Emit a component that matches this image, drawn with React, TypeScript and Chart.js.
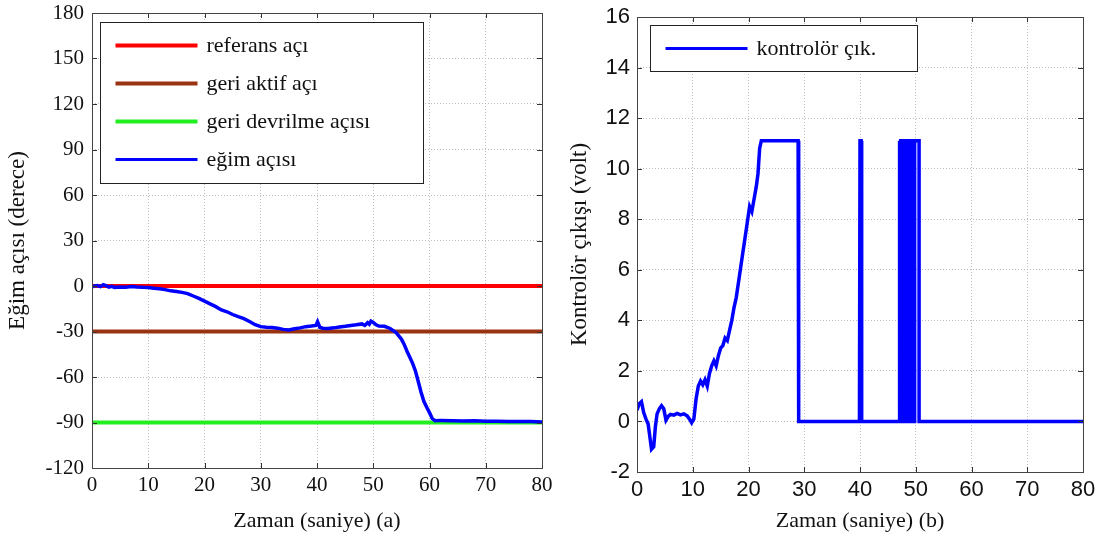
import React, { useEffect, useRef } from "react";
import { Chart, registerables } from "chart.js";
Chart.register(...registerables);

// ---------- data ----------
const xTickValues = [0, 10, 20, 30, 40, 50, 60, 70, 80];
const leftYTicks = [-120, -90, -60, -30, 0, 30, 60, 90, 120, 150, 180];
const rightYTicks = [-2, 0, 2, 4, 6, 8, 10, 12, 14, 16];

const refTime = [0, 80];
const referansAci = [0, 0];
const geriAktifAci = [-30, -30];
const geriDevrilmeAcisi = [-90, -90];

const egimTime = [
  0, 0.5, 1, 1.5, 2, 2.5, 3, 3.5, 4, 5, 6, 7, 8, 9, 10, 11, 12, 13, 14, 15, 16,
  17, 18, 19, 20, 21, 22, 23, 24, 25, 26, 27, 28, 29, 30, 31, 32, 33, 34, 35,
  36, 37, 38, 39, 39.8, 40.1, 40.5, 41, 42, 43, 44, 45, 46, 47, 48, 48.5, 49,
  49.3, 49.6, 50, 50.5, 51, 52, 53, 54, 55, 55.5, 56, 56.5, 57, 57.5, 58, 58.5,
  59, 59.5, 60, 60.5, 61, 62, 64, 66, 68, 70, 72, 74, 76, 78, 80,
];
const egimAcisi = [
  -0.5, 0.1, 0.3, -0.4, 0.8, 0.2, -0.8, -0.2, -0.9, -0.6, -0.8, -0.3, -0.7,
  -0.9, -1.0, -1.5, -1.8, -2.4, -3.2, -3.6, -4.2, -5.0, -6.6, -8.2, -10, -11.8,
  -13.6, -15.8, -17, -18.8, -20.2, -21.5, -23.4, -25.5, -26.8, -27.2, -27.4,
  -27.8, -28.6, -29.0, -28.2, -27.6, -26.8, -26.4, -26, -23.5, -27.2, -27.8,
  -28, -27.6, -27, -26.6, -26, -25.6, -25, -26, -24.2, -25.2, -23.2, -24,
  -25.6, -26.4, -26.6, -28, -30.5, -35, -38.5, -43, -47, -51, -56, -63, -70,
  -76, -80, -83.5, -87.5, -88.8, -88.6, -88.8, -89.0, -88.9, -89.2, -89.1,
  -89.3, -89.4, -89.4, -89.6,
];

const kontrolTime = [
  0, 0.4, 0.8, 1.2, 1.6, 2.0, 2.3, 2.6, 3.0, 3.3, 3.6, 4.0, 4.4, 4.8, 5.2, 5.6,
  6.0, 6.6, 7.2, 7.8, 8.4, 9.0, 9.4, 9.8, 10.2, 10.6, 11.0, 11.4, 11.8, 12.2,
  12.6, 13.0, 13.4, 13.8, 14.2, 14.6, 15.0, 15.4, 15.8, 16.2, 16.6, 17.0, 17.4,
  17.8, 18.2, 18.6, 19.0, 19.4, 19.8, 20.2, 20.6, 21.0, 21.4, 21.7, 22.0, 22.3,
  28.9, 29.0, 39.9, 40.0, 40.2, 40.3, 46.9, 47.0, 47.0, 47.15, 47.15, 47.3,
  47.3, 47.45, 47.45, 47.6, 47.6, 47.75, 47.75, 47.9, 47.9, 48.05, 48.05, 48.2,
  48.2, 48.35, 48.35, 48.5, 48.5, 48.65, 48.65, 48.8, 48.8, 48.95, 48.95, 49.1,
  49.1, 49.3, 49.3, 49.8, 49.8, 50.6, 50.6, 80,
];
const kontrolorCikis = [
  0.45, 0.7, 0.78, 0.35, 0.1, -0.1, -0.6, -1.1, -1.0, -0.2, 0.3, 0.5, 0.62, 0.5,
  0.05, 0.2, 0.28, 0.25, 0.32, 0.26, 0.3, 0.22, 0.1, -0.05, 0.1, 0.9, 1.4, 1.6,
  1.45, 1.65, 1.4, 1.9, 2.2, 2.4, 2.2, 2.6, 2.9, 3.0, 3.3, 3.2, 3.6, 4.0, 4.5,
  4.9, 5.5, 6.1, 6.7, 7.3, 7.9, 8.5, 8.3, 8.8, 9.3, 9.8, 10.8, 11.1, 11.1, 0, 0,
  11.1, 11.1, 0, 0, 0, 11.1, 11.1, 0, 0, 11.1, 11.1, 0, 0, 11.1, 11.1, 0, 0,
  11.1, 11.1, 0, 0, 11.1, 11.1, 0, 0, 11.1, 11.1, 0, 0, 11.1, 11.1, 0, 0, 11.1,
  11.1, 0, 0, 11.1, 11.1, 0, 0,
];

const toPoints = (xs: number[], ys: number[]) => xs.map((x, i) => ({ x, y: ys[i] }));

// ---------- plugins ----------
function framePlugin(legend: { items: { label: string; color: string; width: number }[]; dx: number; dy: number; w: number; h: number; row: number; first: number }) {
  return {
    id: "frame",
    afterDraw(chart: any) {
      const ctx = chart.ctx;
      const a = chart.chartArea;
      ctx.save();
      ctx.strokeStyle = "#333";
      ctx.lineWidth = 1;
      const xs = chart.scales.x;
      const ys = chart.scales.y;
      ctx.beginPath();
      xs.ticks.forEach((t: any) => {
        const p = Math.round(xs.getPixelForValue(t.value)) + 0.5;
        ctx.moveTo(p, a.bottom);
        ctx.lineTo(p, a.bottom - 5);
        ctx.moveTo(p, a.top);
        ctx.lineTo(p, a.top + 5);
      });
      ys.ticks.forEach((t: any) => {
        const p = Math.round(ys.getPixelForValue(t.value)) + 0.5;
        ctx.moveTo(a.left, p);
        ctx.lineTo(a.left + 5, p);
        ctx.moveTo(a.right, p);
        ctx.lineTo(a.right - 5, p);
      });
      ctx.stroke();
      ctx.strokeStyle = "#444";
      ctx.strokeRect(Math.round(a.left) + 0.5, Math.round(a.top) + 0.5, Math.round(a.right - a.left), Math.round(a.bottom - a.top));
      const lx = Math.round(a.left + legend.dx) + 0.5;
      const ly = Math.round(a.top + legend.dy) + 0.5;
      ctx.fillStyle = "#fff";
      ctx.fillRect(lx, ly, legend.w, legend.h);
      ctx.strokeStyle = "#222";
      ctx.lineWidth = 1;
      ctx.strokeRect(lx, ly, legend.w, legend.h);
      ctx.font = '22px "Liberation Serif"';
      ctx.textBaseline = "middle";
      ctx.textAlign = "left";
      legend.items.forEach((it, i) => {
        const y = ly + legend.first + i * legend.row;
        ctx.strokeStyle = it.color;
        ctx.lineWidth = it.width;
        ctx.beginPath();
        ctx.moveTo(lx + 15, y);
        ctx.lineTo(lx + 97, y);
        ctx.stroke();
        ctx.fillStyle = "#111";
        ctx.fillText(it.label, lx + 106, y + 1);
      });
      ctx.restore();
    },
  };
}

const gridOpts = {
  color: "#bcbcbc",
  lineWidth: 1,
  drawTicks: false,
};

const fitX = (h: number) => (s: any) => {
  s.height = h;
  s.paddingLeft = 0;
  s.paddingRight = 0;
  s.paddingTop = 0;
  s.paddingBottom = 0;
};
const fitY = (w: number) => (s: any) => {
  s.width = w;
  s.paddingLeft = 0;
  s.paddingRight = 0;
  s.paddingTop = 0;
  s.paddingBottom = 0;
};

function LeftChart() {
  const ref = useRef<HTMLCanvasElement>(null);
  useEffect(() => {
    const chart = new Chart(ref.current!, {
      type: "line",
      data: {
        datasets: [
          { label: "referans açı", data: toPoints(refTime, referansAci), borderColor: "#ff0000", borderWidth: 4, pointRadius: 0, order: 3 },
          { label: "geri aktif açı", data: toPoints(refTime, geriAktifAci), borderColor: "#993311", borderWidth: 4, pointRadius: 0, order: 2 },
          { label: "geri devrilme açısı", data: toPoints(refTime, geriDevrilmeAcisi), borderColor: "#22ee22", borderWidth: 4, pointRadius: 0, order: 1 },
          { label: "eğim açısı", data: toPoints(egimTime, egimAcisi), borderColor: "#0000ff", borderWidth: 3.5, pointRadius: 0, order: 0 },
        ],
      },
      options: {
        responsive: false,
        animation: false,
        layout: { padding: { top: 13, right: 18, left: 0, bottom: 0 } },
        plugins: { legend: { display: false }, tooltip: { enabled: false } },
        scales: {
          x: {
            type: "linear",
            min: 0,
            max: 80,
            afterBuildTicks: (s: any) => { s.ticks = xTickValues.map((v) => ({ value: v })); },
            afterFit: fitX(73),
            ticks: { color: "#111", font: { family: "Liberation Serif", size: 21 }, padding: 5, maxRotation: 0 },
            grid: { ...gridOpts } as any,
            border: { display: false, dash: [1, 2] },
            title: { display: true, text: "Zaman (saniye) (a)", color: "#111", font: { family: "Liberation Serif", size: 22 }, padding: { top: 0, bottom: 7 } },
          },
          y: {
            type: "linear",
            min: -120,
            max: 180,
            afterBuildTicks: (s: any) => { s.ticks = leftYTicks.map((v) => ({ value: v })); },
            afterFit: fitY(92),
            ticks: { color: "#111", font: { family: "Liberation Serif", size: 21 }, padding: 8 },
            grid: { ...gridOpts } as any,
            border: { display: false, dash: [1, 2] },
            title: { display: true, text: "Eğim açısı (derece)", color: "#111", font: { family: "Liberation Serif", size: 23 }, padding: { top: 4, bottom: 0 } },
          },
        },
      },
      plugins: [
        framePlugin({
          items: [
            { label: "referans açı", color: "#ff0000", width: 4 },
            { label: "geri aktif açı", color: "#993311", width: 4 },
            { label: "geri devrilme açısı", color: "#22ee22", width: 4 },
            { label: "eğim açısı", color: "#0000ff", width: 3 },
          ],
          dx: 8,
          dy: 9,
          w: 323,
          h: 161,
          row: 38,
          first: 23,
        }),
      ],
    } as any);
    return () => chart.destroy();
  }, []);
  return <canvas ref={ref} width={560} height={541} style={{ position: "absolute", left: 0, top: 0 }} />;
}

function RightChart() {
  const ref = useRef<HTMLCanvasElement>(null);
  useEffect(() => {
    const chart = new Chart(ref.current!, {
      type: "line",
      data: {
        datasets: [
          { label: "kontrolör çık.", data: toPoints(kontrolTime, kontrolorCikis), borderColor: "#0000ff", borderWidth: 3.5, pointRadius: 0 },
        ],
      },
      options: {
        responsive: false,
        animation: false,
        layout: { padding: { top: 17, right: 24, left: 0, bottom: 0 } },
        plugins: { legend: { display: false }, tooltip: { enabled: false } },
        scales: {
          x: {
            type: "linear",
            min: 0,
            max: 80,
            afterBuildTicks: (s: any) => { s.ticks = xTickValues.map((v) => ({ value: v })); },
            afterFit: fitX(69),
            ticks: { color: "#111", font: { family: "Liberation Sans", size: 22 }, padding: 5, maxRotation: 0 },
            grid: { ...gridOpts } as any,
            border: { display: false, dash: [1, 2] },
            title: { display: true, text: "Zaman (saniye) (b)", color: "#111", font: { family: "Liberation Serif", size: 22 }, padding: { top: 0, bottom: 7 } },
          },
          y: {
            type: "linear",
            min: -2,
            max: 16,
            afterBuildTicks: (s: any) => { s.ticks = rightYTicks.map((v) => ({ value: v })); },
            afterFit: fitY(77),
            ticks: { color: "#111", font: { family: "Liberation Sans", size: 22 }, padding: 7 },
            grid: { ...gridOpts } as any,
            border: { display: false, dash: [1, 2] },
            title: { display: true, text: "Kontrolör çıkışı (volt)", color: "#111", font: { family: "Liberation Serif", size: 23 }, padding: { top: 6, bottom: 0 } },
          },
        },
      },
      plugins: [
        framePlugin({
          items: [{ label: "kontrolör çık.", color: "#0000ff", width: 3 }],
          dx: 13,
          dy: 8,
          w: 267,
          h: 46,
          row: 38,
          first: 23,
        }),
      ],
    } as any);
    return () => chart.destroy();
  }, []);
  return <canvas ref={ref} width={547} height={541} style={{ position: "absolute", left: 560, top: 0 }} />;
}

export default function App() {
  return (
    <div style={{ position: "fixed", left: 0, top: 0, width: 1107, height: 541, background: "#fff", overflow: "hidden" }}>
      <LeftChart />
      <RightChart />
    </div>
  );
}
